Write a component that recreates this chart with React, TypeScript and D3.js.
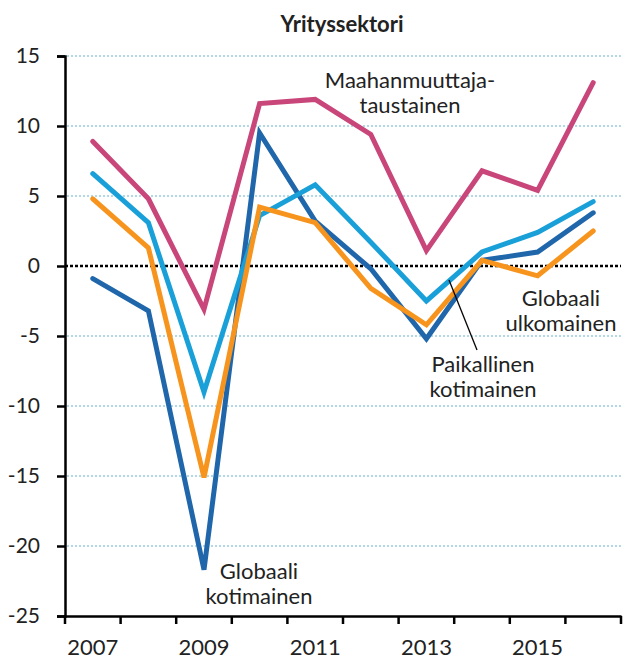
import { useRef, useEffect } from "react";
import * as d3 from "d3";

const years = [2007, 2008, 2009, 2010, 2011, 2012, 2013, 2014, 2015, 2016];
const yearLabels = ["2007", "2009", "2011", "2013", "2015"];
const yTicks = [15, 10, 5, 0, -5, -10, -15, -20, -25];

const globaaliKotimainen = [-0.9, -3.2, -21.7, 9.5, 3.2, -0.2, -5.2, 0.4, 1.0, 3.8];
const paikallinenKotimainen = [6.6, 3.1, -9.0, 3.6, 5.8, 1.7, -2.5, 1.0, 2.4, 4.6];
const globaaliUlkomainen = [4.8, 1.3, -15.1, 4.2, 3.1, -1.6, -4.2, 0.4, -0.7, 2.5];
const maahanmuuttaja = [8.9, 4.8, -3.1, 11.6, 11.9, 9.4, 1.1, 6.8, 5.4, 13.1];

const seriesList = [
  { name: "Globaali kotimainen", values: globaaliKotimainen, color: "#1f66ab" },
  { name: "Paikallinen kotimainen", values: paikallinenKotimainen, color: "#1aa0d8" },
  { name: "Globaali ulkomainen", values: globaaliUlkomainen, color: "#f7941d" },
  { name: "Maahanmuuttajataustainen", values: maahanmuuttaja, color: "#c9467a" },
];

const FONT = "Lato, 'Open Sans', sans-serif";

export default function App() {
  const ref = useRef<HTMLDivElement>(null);

  function init() {
    if (!ref.current) return;
    ref.current.innerHTML = "";

    const width = 624,
      height = 660;
    const margin = { top: 56, right: 3, bottom: 44, left: 65 };

    const svg = d3
      .select(ref.current)
      .append("svg")
      .attr("width", width)
      .attr("height", height)
      .style("font-family", FONT);

    const x = d3
      .scaleBand<number>()
      .domain(years)
      .range([margin.left, width - margin.right]);
    const y = d3
      .scaleLinear()
      .domain([-25, 15])
      .range([height - margin.bottom, margin.top]);

    const cx = (i: number) => (x(years[i]) as number) + x.bandwidth() / 2;

    // Title
    svg
      .append("text")
      .attr("x", 342)
      .attr("y", 32)
      .attr("text-anchor", "middle")
      .attr("font-weight", "bold")
      .attr("font-size", 22)
      .attr("fill", "#222")
      .text("Yrityssektori");

    // Gridlines
    svg
      .append("g")
      .selectAll("line")
      .data(yTicks.filter((t) => t !== 0 && t !== -25))
      .join("line")
      .attr("x1", margin.left + 2)
      .attr("x2", width - margin.right)
      .attr("y1", (d) => y(d))
      .attr("y2", (d) => y(d))
      .attr("stroke", "#b3d8e6")
      .attr("stroke-width", 2)
      .attr("stroke-dasharray", "2,2");

    // Zero line
    svg
      .append("line")
      .attr("x1", margin.left)
      .attr("x2", width - margin.right)
      .attr("y1", y(0))
      .attr("y2", y(0))
      .attr("stroke", "#000")
      .attr("stroke-width", 2.5)
      .attr("stroke-dasharray", "3,2");

    // Y axis
    const yAxis = d3
      .axisLeft(y)
      .tickValues(yTicks)
      .tickSize(8)
      .tickPadding(17)
      .tickFormat((d) => String(d));
    const gy = svg
      .append("g")
      .attr("transform", `translate(${margin.left},0)`)
      .call(yAxis);
    gy.select(".domain").attr("stroke", "#000").attr("stroke-width", 2.5);
    gy.selectAll(".tick line").attr("stroke", "#000").attr("stroke-width", 2.5);
    gy.selectAll(".tick text")
      .attr("font-family", FONT)
      .attr("font-size", 21)
      .attr("fill", "#222");

    // X axis
    const xAxis = d3
      .axisBottom(x)
      .tickSize(0)
      .tickPadding(23)
      .tickFormat((d) => (yearLabels.includes(String(d)) ? String(d) : ""));
    const gx = svg
      .append("g")
      .attr("transform", `translate(0,${height - margin.bottom})`)
      .call(xAxis);
    gx.select(".domain").attr("stroke", "#000").attr("stroke-width", 2.5);
    gx.selectAll(".tick text")
      .attr("font-family", FONT)
      .attr("font-size", 22)
      .attr("fill", "#222");
    // band boundary ticks
    gx.append("g")
      .selectAll("line")
      .data(years.concat([years[years.length - 1] + 1]))
      .join("line")
      .attr("x1", (d, i) => margin.left + i * x.bandwidth())
      .attr("x2", (d, i) => margin.left + i * x.bandwidth())
      .attr("y1", 0)
      .attr("y2", 8)
      .attr("stroke", "#000")
      .attr("stroke-width", 2.5);

    // Lines
    const line = d3
      .line<number>()
      .x((d, i) => cx(i))
      .y((d) => y(d));

    svg
      .append("g")
      .selectAll("path")
      .data(seriesList)
      .join("path")
      .attr("d", (s) => line(s.values))
      .attr("fill", "none")
      .attr("stroke", (s) => s.color)
      .attr("stroke-width", 5)
      .attr("stroke-linejoin", "miter")
      .attr("stroke-linecap", "round");

    // Labels
    const labels = [
      { lines: ["Maahanmuuttaja-", "taustainen"], x: 410, y: 88 },
      { lines: ["Globaali", "ulkomainen"], x: 561, y: 306 },
      { lines: ["Paikallinen", "kotimainen"], x: 483, y: 372 },
      { lines: ["Globaali", "kotimainen"], x: 259, y: 579 },
    ];
    labels.forEach((l) => {
      l.lines.forEach((s, i) => {
        svg
          .append("text")
          .attr("text-anchor", "middle")
          .attr("font-size", 22)
          .attr("fill", "#222")
          .attr("x", l.x)
          .attr("y", l.y + i * 24.5)
          .text(s);
      });
    });

    // Leader line for Paikallinen kotimainen
    svg
      .append("line")
      .attr("x1", 449)
      .attr("y1", 280)
      .attr("x2", 477)
      .attr("y2", 350)
      .attr("stroke", "#000")
      .attr("stroke-width", 1.3);
  }

  useEffect(init, []);

  return (
    <div style={{ position: "absolute", left: 0, top: 0 }}>
      <div ref={ref}></div>
    </div>
  );
}
